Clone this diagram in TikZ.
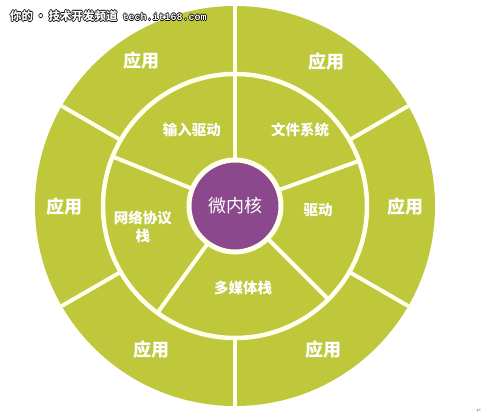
\documentclass[tikz,border=0pt]{standalone}
\usepackage{fontspec}
\newfontfamily\cjk{Noto Sans CJK SC}
\newfontfamily\monof{Liberation Mono}
\newfontfamily\symf{DejaVu Sans}
\definecolor{ringgreen}{RGB}{191,199,58}
\definecolor{corepurple}{RGB}{140,72,140}
\definecolor{linecol}{RGB}{255,255,238}
\newcommand\outl[1]{%
  \makebox[0pt][l]{\hspace*{-0.7pt}\textcolor{black}{#1}}%
  \makebox[0pt][l]{\hspace*{0.7pt}\textcolor{black}{#1}}%
  \makebox[0pt][l]{\raisebox{0.7pt}{\textcolor{black}{#1}}}%
  \makebox[0pt][l]{\raisebox{-0.7pt}{\textcolor{black}{#1}}}%
  \textcolor{white}{#1}}
\begin{document}
\begin{tikzpicture}[x=1pt,y=1pt,
  sep/.style={draw=linecol, line width=4pt},
  applab/.style={text=white, font=\cjk\bfseries\fontsize{18}{20}\selectfont, inner sep=0pt},
  ilab/.style={text=white, font=\cjk\bfseries\fontsize{14.5}{18}\selectfont, align=center, inner sep=0pt}]
\useasboundingbox (-235,-211) rectangle (265,206);
\fill[white] (-235,-211) rectangle (265,206);
\node[circle, fill=ringgreen, minimum size=400pt, inner sep=0pt, outer sep=0pt] (outer) at (0,0) {};
\node[circle, draw=linecol, line width=4.5pt, minimum size=264pt, inner sep=0pt, outer sep=0pt] (mid) at (0,0) {};
\node[circle, fill=corepurple, draw=linecol, line width=5pt, minimum size=92pt, inner sep=0pt, outer sep=0pt,
      text=white, font=\cjk\fontsize{18}{20}\selectfont] (core) at (0,0) {微内核};
\foreach \a in {90,30,-30,-90,-150,150}
  \draw[sep] (mid.\a) -- (outer.\a);
\foreach \a in {90,20,-45,-126,158}
  \draw[sep] (core.\a) -- (mid.\a);
% outer ring labels
\node[applab] (app1) at (-93,145) {应用};
\node[applab] (app2) at (91,144) {应用};
\node[applab] (app3) at (-170,-1) {应用};
\node[applab] (app4) at (170,-1) {应用};
\node[applab] (app5) at (-83,-144) {应用};
\node[applab] (app6) at (88,-144) {应用};
% inner ring labels
\node[ilab] (inp) at (-43,76) {输入驱动};
\node[ilab] (fs) at (65,76) {文件系统};
\node[ilab] (drv) at (83,-4) {驱动};
\node[ilab] (net) at (-92,-21) {网络协议\\栈};
\node[ilab] (mm) at (8,-82) {多媒体栈};
% watermark
\node[anchor=west, inner sep=0pt] (wm) at (-225,190)
  {\outl{\cjk\bfseries\fontsize{11.5}{13}\selectfont 你的\hspace{2pt}•\hspace{2pt}技术开发频道}\hspace{5pt}\outl{\monof\bfseries\fontsize{10}{12}\selectfont tech.it168.com}};
\node[text=black!50, font=\symf\fontsize{6}{7}\selectfont, inner sep=0pt] (ret) at (244,-205) {↵};
\end{tikzpicture}
\end{document}
